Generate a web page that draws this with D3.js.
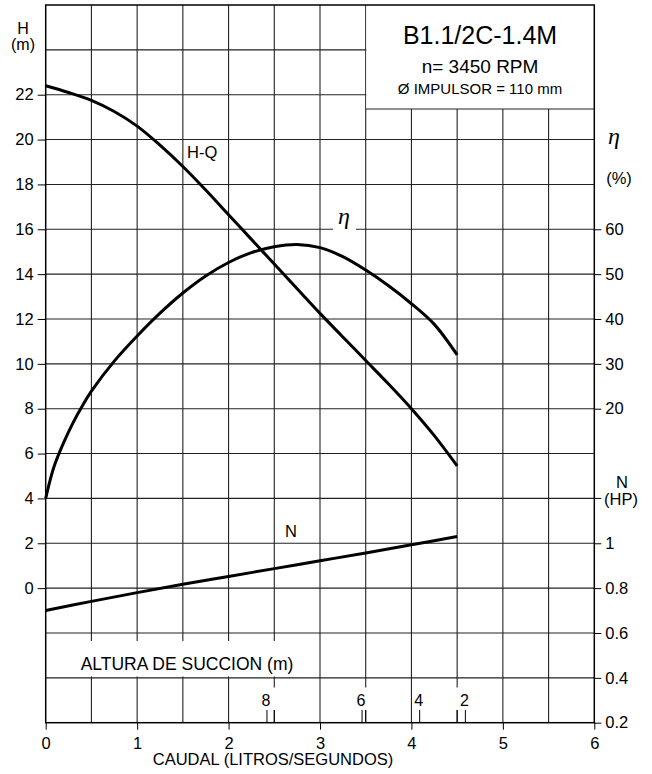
<!DOCTYPE html>
<html>
<head>
<meta charset="utf-8">
<script src="https://cdn.jsdelivr.net/npm/d3@7"></script>
<style>
  body { margin: 0; background: #fff; }
  svg { display: block; font-family: "Liberation Sans", Arial, sans-serif; }
</style>
</head>
<body>
<svg width="652" height="774"></svg>
<script>
// H-Q curve (m)
var headQ = [0, 0.25, 0.5, 0.75, 1.0, 1.25, 1.5, 1.75, 2.0, 2.25, 2.5, 2.75, 3.0, 3.25, 3.5, 3.75, 4.0, 4.25, 4.5];
var head = [22.4, 22.1, 21.75, 21.25, 20.6, 19.75, 18.8, 17.75, 16.65, 15.55, 14.45, 13.35, 12.25, 11.2, 10.15, 9.1, 8.0, 6.8, 5.45];

// efficiency (%)
var effQ = [0, 0.05, 0.1, 0.2, 0.3, 0.4, 0.5, 0.75, 1.0, 1.25, 1.5, 1.75, 2.0, 2.25, 2.5, 2.75, 3.0, 3.25, 3.5, 3.75, 4.0, 4.25, 4.5];
var eff = [0, 4.2, 7.6, 12.6, 16.9, 20.6, 23.9, 30.6, 36.2, 41.3, 45.8, 49.6, 52.6, 54.8, 56.1, 56.6, 55.9, 53.9, 50.9, 47.4, 43.4, 38.8, 32.0];

// power (HP)
var powQ = [0, 0.5, 1, 1.5, 2, 2.5, 3, 3.5, 4, 4.5];
var pow = [0.70, 0.741, 0.78, 0.817, 0.852, 0.887, 0.922, 0.957, 0.993, 1.03];

// suction height markers (m) and their flow
var suction = [8, 6, 4, 2];
var suctionQ = [2.42, 3.46, 4.09, 4.59];

var xTicks = [0, 1, 2, 3, 4, 5, 6];
var hTicks = [0, 2, 4, 6, 8, 10, 12, 14, 16, 18, 20, 22];
var effTicks = [20, 30, 40, 50, 60];
var powTicks = [0.2, 0.4, 0.6, 0.8, 1];

var svg = d3.select("svg");

var x = d3.scaleLinear().domain([0, 6]).range([45.7, 594.3]);
var y = d3.scaleLinear().domain([-6, 26]).range([722.7, 5]);
var yEff = d3.scaleLinear().domain([0, 60]).range([y(4), y(16)]);
var yPow = d3.scaleLinear().domain([0.2, 1]).range([y(-6), y(2)]);

var grid = svg.append("g").attr("stroke", "#222").attr("stroke-width", 1.1);

grid.selectAll(".v")
  .data(d3.range(0.5, 6, 0.5))
  .enter().append("line")
  .attr("x1", function(d) { return x(d); })
  .attr("x2", function(d) { return x(d); })
  .attr("y1", y(26)).attr("y2", y(-6));

grid.selectAll(".h")
  .data(d3.range(-4, 26, 2))
  .enter().append("line")
  .attr("x1", x(0)).attr("x2", x(6))
  .attr("y1", function(d) { return y(d); })
  .attr("y2", function(d) { return y(d); });

// gaps in the grid behind the suction labels
svg.selectAll(".gap")
  .data([2.5, 3.5, 4.5])
  .enter().append("rect")
  .attr("x", function(d) { return x(d) - 2; })
  .attr("y", 687.5)
  .attr("width", 4)
  .attr("height", 22.5)
  .attr("fill", "#fff");

// white box behind "ALTURA DE SUCCION (m)"
svg.append("rect")
  .attr("x", 70).attr("y", 641)
  .attr("width", 234).attr("height", 35.5)
  .attr("fill", "#fff");

svg.append("text")
  .attr("x", 187).attr("y", 670)
  .attr("text-anchor", "middle")
  .attr("font-size", 17.5)
  .text("ALTURA DE SUCCION (m)");

// suction marks
var sm = svg.append("g");
sm.selectAll("line.s")
  .data(suctionQ)
  .enter().append("line")
  .attr("x1", function(d) { return x(d); })
  .attr("x2", function(d) { return x(d); })
  .attr("y1", 710).attr("y2", y(-6))
  .attr("stroke", "#000").attr("stroke-width", 1);
sm.selectAll("line.g")
  .data([2.5, 3.5, 4.5])
  .enter().append("line")
  .attr("x1", function(d) { return x(d); })
  .attr("x2", function(d) { return x(d); })
  .attr("y1", 710).attr("y2", y(-6))
  .attr("stroke", "#000").attr("stroke-width", 1);
sm.selectAll("text")
  .data(suction)
  .enter().append("text")
  .attr("x", function(d, i) { return x(suctionQ[i]) - 1; })
  .attr("y", 706)
  .attr("text-anchor", "middle")
  .attr("font-size", 16)
  .text(function(d) { return d; });

// title box
svg.append("rect")
  .attr("x", x(3.5) + 0.6).attr("y", 5)
  .attr("width", x(6) - x(3.5) - 0.6).attr("height", 104)
  .attr("fill", "#fff");
svg.append("line")
  .attr("x1", x(3.5)).attr("x2", x(6))
  .attr("y1", 109).attr("y2", 109)
  .attr("stroke", "#222").attr("stroke-width", 1.1);

var cx = (x(3.5) + x(6)) / 2;
svg.append("text").attr("x", cx).attr("y", 44)
  .attr("text-anchor", "middle").attr("font-size", 25).text("B1.1/2C-1.4M");
svg.append("text").attr("x", cx).attr("y", 73)
  .attr("text-anchor", "middle").attr("font-size", 19).text("n= 3450 RPM");
svg.append("text").attr("x", cx).attr("y", 94)
  .attr("text-anchor", "middle").attr("font-size", 15).text("Ø IMPULSOR = 110 mm");

// frame
svg.append("rect")
  .attr("x", x(0)).attr("y", y(26))
  .attr("width", x(6) - x(0)).attr("height", y(-6) - y(26))
  .attr("fill", "none").attr("stroke", "#000").attr("stroke-width", 1.5);

// left axis
var left = svg.append("g").attr("transform", "translate(" + x(0) + ",0)")
  .call(d3.axisLeft(y).tickValues(hTicks).tickSize(8).tickPadding(4));
// bottom axis
var bottom = svg.append("g").attr("transform", "translate(0," + y(-6) + ")")
  .call(d3.axisBottom(x).tickValues(xTicks).tickSize(7).tickPadding(4)
    .tickFormat(d3.format("d")));
// right axes
var rightE = svg.append("g").attr("transform", "translate(" + x(6) + ",0)")
  .call(d3.axisRight(yEff).tickValues(effTicks).tickSize(7).tickPadding(4));
var rightP = svg.append("g").attr("transform", "translate(" + x(6) + ",0)")
  .call(d3.axisRight(yPow).tickValues(powTicks).tickSize(7).tickPadding(4)
    .tickFormat(function(d) { return d === 1 ? "1" : d3.format(".1f")(d); }));

[left, bottom, rightE, rightP].forEach(function(a) {
  a.select(".domain").remove();
  a.selectAll("text").attr("font-size", 16.5).attr("font-family", null).attr("fill", "#000");
  a.selectAll("line").attr("stroke", "#000");
});
bottom.selectAll("text").attr("dy", "0.9em");

// tick for N (HP) label
svg.append("line")
  .attr("x1", x(6)).attr("x2", x(6) + 7)
  .attr("y1", y(4)).attr("y2", y(4))
  .attr("stroke", "#000");

// curves
function curveLine(scaleY) {
  return d3.line()
    .x(function(d) { return x(d[0]); })
    .y(function(d) { return scaleY(d[1]); })
    .curve(d3.curveCatmullRom);
}

svg.append("path")
  .datum(d3.zip(headQ, head))
  .attr("d", curveLine(y))
  .attr("fill", "none").attr("stroke", "#000").attr("stroke-width", 3);
svg.append("path")
  .datum(d3.zip(effQ, eff))
  .attr("d", curveLine(yEff))
  .attr("fill", "none").attr("stroke", "#000").attr("stroke-width", 3);
svg.append("path")
  .datum(d3.zip(powQ, pow))
  .attr("d", curveLine(yPow))
  .attr("fill", "none").attr("stroke", "#000").attr("stroke-width", 3);

// curve labels
svg.append("text").attr("x", 187).attr("y", 158).attr("font-size", 16.5).text("H-Q");
svg.append("rect").attr("x", 333).attr("y", 226).attr("width", 23).attr("height", 6).attr("fill", "#fff");
svg.append("text").attr("x", 344).attr("y", 224)
  .attr("text-anchor", "middle").attr("font-size", 24)
  .attr("font-family", "Liberation Serif, serif").attr("font-style", "italic").text("η");
svg.append("text").attr("x", 291).attr("y", 537)
  .attr("text-anchor", "middle").attr("font-size", 16.5).text("N");

// axis titles
svg.append("text").attr("x", 23).attr("y", 33.5)
  .attr("text-anchor", "middle").attr("font-size", 16).text("H");
svg.append("text").attr("x", 23).attr("y", 50)
  .attr("text-anchor", "middle").attr("font-size", 16).text("(m)");
svg.append("text").attr("x", 614).attr("y", 144)
  .attr("text-anchor", "middle").attr("font-size", 24)
  .attr("font-family", "Liberation Serif, serif").attr("font-style", "italic").text("η");
svg.append("text").attr("x", 619).attr("y", 184)
  .attr("text-anchor", "middle").attr("font-size", 16.5).text("(%)");
svg.append("text").attr("x", 622).attr("y", 488)
  .attr("text-anchor", "middle").attr("font-size", 16.5).text("N");
svg.append("text").attr("x", 621).attr("y", 505)
  .attr("text-anchor", "middle").attr("font-size", 16.5).text("(HP)");
svg.append("text").attr("x", 273).attr("y", 765)
  .attr("text-anchor", "middle").attr("font-size", 16.5).text("CAUDAL (LITROS/SEGUNDOS)");
</script>
</body>
</html>
